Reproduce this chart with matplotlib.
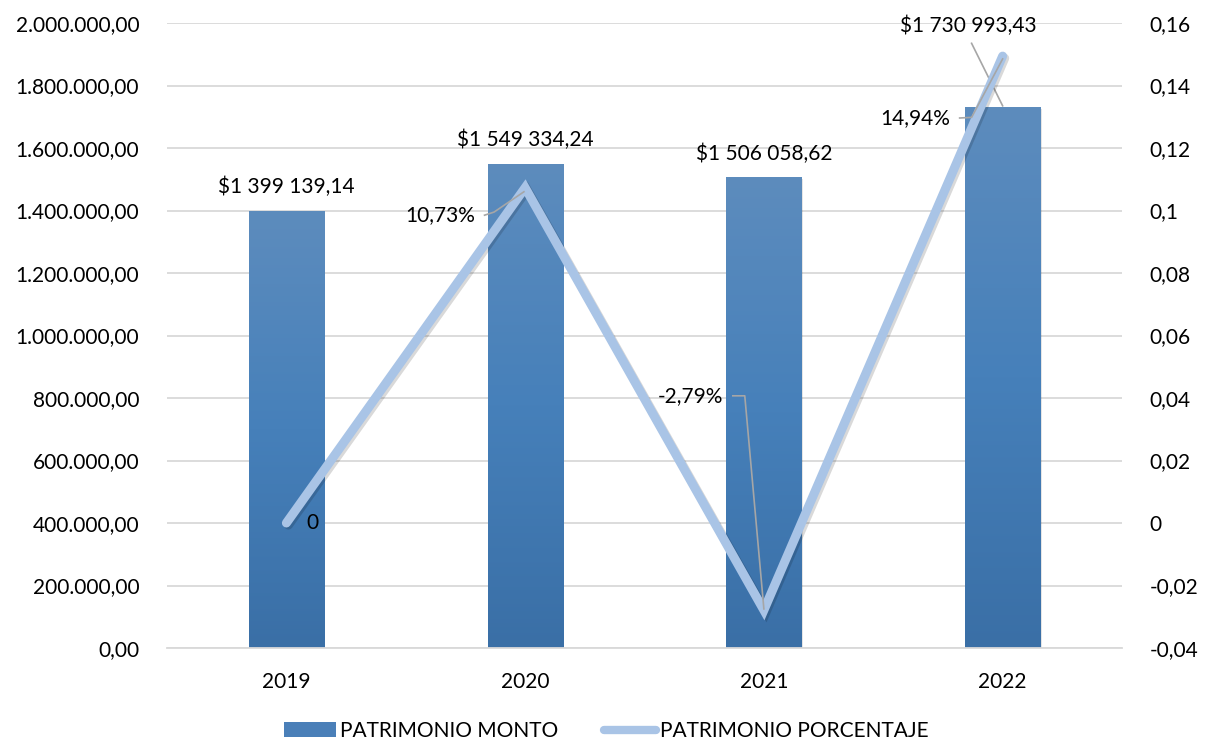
import matplotlib
matplotlib.use("Agg")
import matplotlib.pyplot as plt
import numpy as np
from matplotlib import patheffects as pe
from matplotlib.ticker import FuncFormatter, MultipleLocator
from matplotlib.colors import LinearSegmentedColormap
from matplotlib.lines import Line2D
from matplotlib.patches import Patch

years = ["2019", "2020", "2021", "2022"]
monto = [1399139.14, 1549334.24, 1506058.62, 1730993.43]
porcentaje = [0.0, 0.1073, -0.0279, 0.1494]
monto_labels = ["$1 399 139,14", "$1 549 334,24", "$1 506 058,62", "$1 730 993,43"]
pct_labels = ["0", "10,73%", "-2,79%", "14,94%"]
legend_labels = ["PATRIMONIO MONTO", "PATRIMONIO PORCENTAJE"]

plt.rcParams['font.family'] = ['Lato', 'DejaVu Sans']
FS = 15

fig = plt.figure(figsize=(12.05, 7.47), dpi=100)
ax = fig.add_axes([167/1205, 1-648/747, (1122-167)/1205, (648-23)/747])
ax2 = ax.twinx()

x = np.arange(len(years))
bars = ax.bar(x, monto, width=0.315, color="#4a7fb8", zorder=2)

cmap = LinearSegmentedColormap.from_list("g", ["#3a6fa6", "#4680ba", "#5d8cbd"])
grad = np.linspace(0, 1, 256).reshape(-1, 1)
for r in bars:
    bx, by = r.get_x(), r.get_y()
    w, h = r.get_width(), r.get_height()
    sh = plt.Rectangle((bx + 0.006, by), w, h - 6000, color="#000000", alpha=0.10, zorder=1.5, lw=0)
    ax.add_patch(sh)
    im = ax.imshow(grad, extent=[bx, bx + w, by, by + h], origin="lower", cmap=cmap,
                   aspect="auto", zorder=2.1)
    im.set_clip_path(r)

ax.set_xlim(-0.5, 3.5)
ax.set_ylim(0, 2000000)
ax.yaxis.set_major_locator(MultipleLocator(200000))

def fmt_left(v, p):
    s = f"{v:,.2f}"
    return s.replace(",", "X").replace(".", ",").replace("X", ".")
ax.yaxis.set_major_formatter(FuncFormatter(fmt_left))
ax.grid(axis="y", color="#d9d9d9", lw=1.3, zorder=0)
ax.set_axisbelow(True)
for s in ["top", "right", "left"]:
    ax.spines[s].set_visible(False)
ax.spines["bottom"].set_color("#d9d9d9")
ax.spines["bottom"].set_linewidth(1.3)
ax.set_xticks(x)
ax.set_xticklabels(years)
ax.tick_params(axis="both", length=0, labelsize=FS, colors="black")
ax.tick_params(axis="y", pad=20)
ax.tick_params(axis="x", pad=17)

ax2.set_ylim(-0.04, 0.16)
ax2.yaxis.set_major_locator(MultipleLocator(0.02))
def fmt_right(v, p):
    s = f"{round(v, 4):g}"
    if s == "-0":
        s = "0"
    return s.replace(".", ",")
ax2.yaxis.set_major_formatter(FuncFormatter(fmt_right))
ax2.tick_params(axis="y", length=0, labelsize=FS, pad=20)
for s in ax2.spines.values():
    s.set_visible(False)

ax2.plot(x, porcentaje, color="#a9c4e6", lw=6.5, solid_capstyle="round", solid_joinstyle="miter",
         zorder=5, path_effects=[pe.SimpleLineShadow(offset=(1.5, -1.5), alpha=0.15, shadow_color="black"),
                                 pe.Normal()])

# bar labels
bar_lab_pos = [(0, 1475000), (1, 1625000), (2, 1580000), (2.855, 1990000)]
for (lx, ly), t in zip(bar_lab_pos, monto_labels):
    ax.text(lx, ly, t, ha="center", va="center", fontsize=FS, zorder=6)
ax.plot([2.87, 3.0], [1935000, 1735000], color="#a6a6a6", lw=1.2, zorder=6)

# percentage labels
ax2.text(0.11, 0.0, pct_labels[0], ha="center", va="center", fontsize=FS, zorder=7)
ax2.text(0.79, 0.0985, pct_labels[1], ha="right", va="center", fontsize=FS, zorder=7)
ax2.plot([0.83, 0.87, 0.995], [0.0985, 0.0995, 0.106], color="#a6a6a6", lw=1.2, zorder=6)
ax2.text(1.83, 0.0407, pct_labels[2], ha="right", va="center", fontsize=FS, zorder=7)
ax2.plot([1.87, 1.92, 2.0], [0.0407, 0.0407, -0.0275], color="#a6a6a6", lw=1.2, zorder=6)
ax2.text(2.78, 0.1296, pct_labels[3], ha="right", va="center", fontsize=FS, zorder=7)
ax2.plot([2.82, 2.87, 3.0], [0.1296, 0.1298, 0.1485], color="#a6a6a6", lw=1.2, zorder=6)

handles = [Patch(facecolor="#4a7fb8", edgecolor="none"),
           Line2D([0], [0], color="#a9c4e6", lw=6, solid_capstyle="round")]
fig.legend(handles, legend_labels, loc="center", bbox_to_anchor=(0.503, 1-731/747), ncol=2,
           frameon=False, fontsize=FS, handlelength=2.5, handletextpad=0.2, columnspacing=2.2)

fig.savefig("out.png", dpi=100)
